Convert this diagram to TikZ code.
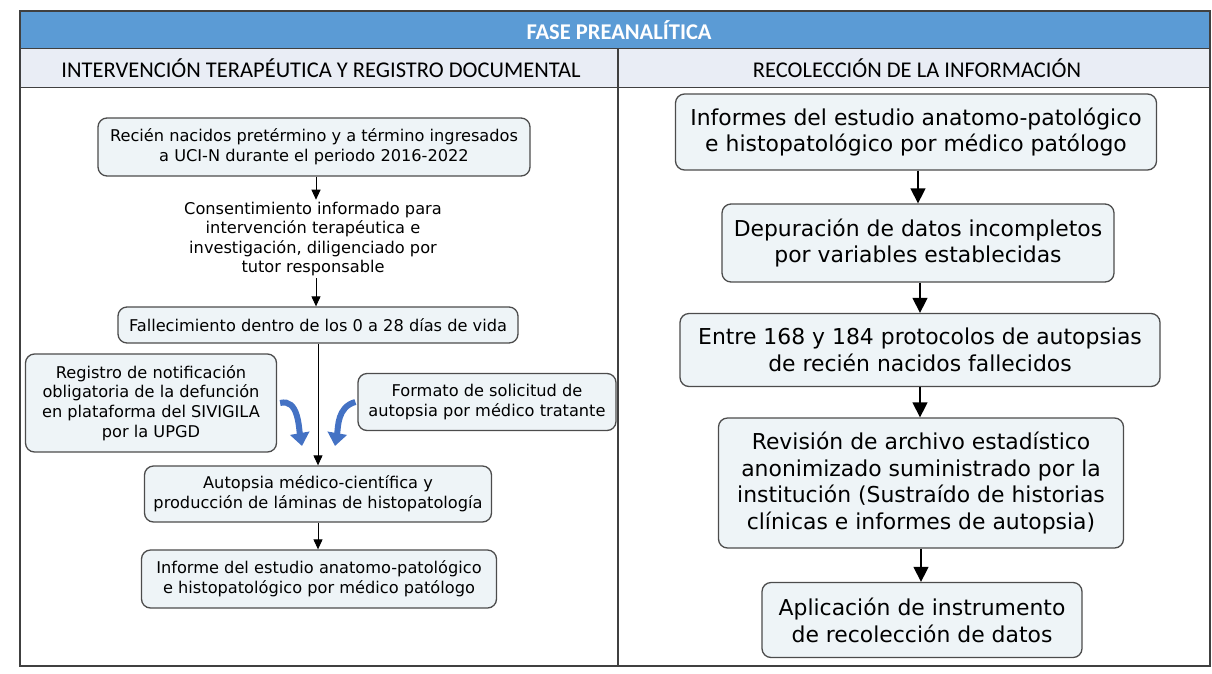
\documentclass[tikz,border=0pt]{standalone}
\usepackage{fontspec}
\setmainfont{DejaVu Sans}
\newfontfamily\hdrfont{Carlito}
\usetikzlibrary{arrows.meta}
\definecolor{barblue}{HTML}{5B9BD5}
\definecolor{subgray}{HTML}{E9EDF5}
\definecolor{boxfill}{HTML}{EEF4F7}
\definecolor{arrblue}{HTML}{4472C4}
\begin{document}
    \begin{tikzpicture}[x=1pt,y=-1pt,
        lbox/.style={draw=black!70,fill=boxfill,rounded corners=9pt,line width=1.3pt,align=center,inner sep=0pt,font=\fontsize{16.2}{19.8}\selectfont},
        rbox/.style={lbox,font=\fontsize{21.9}{26.8}\selectfont},
        lflow/.style={-{Triangle[width=9pt,length=10pt]},line width=1pt},
        rflow/.style={-{Triangle[width=15pt,length=15pt]},line width=1.4pt},
        side/.style={-{Triangle[width=19pt,length=13pt]},arrblue,line width=6pt}]
        \useasboundingbox (0,0) rectangle (1212,673);

        \fill[barblue] (20,11) rectangle (1210,48);
        \fill[subgray] (20,48) rectangle (1210,87);
        \draw[black!75,line width=1.5pt] (20,11) rectangle (1210,666);
        \draw[black!75,line width=1pt] (20,48) -- (1210,48);
        \draw[black!75,line width=1pt] (20,87) -- (1210,87);
        \draw[black!75,line width=1.3pt] (618,48) -- (618,666);

        \node[text=white,font=\hdrfont\bfseries\fontsize{22.5}{26}\selectfont] (fase) at (619,30) {FASE PREANALÍTICA};
        \node[font=\hdrfont\fontsize{22.5}{26}\selectfont] (interv) at (321,68) {INTERVENCIÓN TERAPÉUTICA Y REGISTRO DOCUMENTAL};
        \node[font=\hdrfont\fontsize{22.5}{26}\selectfont] (recol) at (917,68) {RECOLECCIÓN DE LA INFORMACIÓN};

        \node[lbox,minimum width=432pt,minimum height=58pt] (ingreso) at (314,147) {Recién nacidos pretérmino y a término ingresados\\a UCI-N durante el periodo 2016-2022};
        \node[align=center,inner sep=2pt,font=\fontsize{16.2}{19.5}\selectfont] (consent) at (313,239) {Consentimiento informado para\\intervención terapéutica e\\investigación, diligenciado por\\tutor responsable};
        \node[lbox,minimum width=400pt,minimum height=36pt] (fallec) at (318,325) {Fallecimiento dentro de los 0 a 28 días de vida};
        \node[lbox,minimum width=251pt,minimum height=98pt] (registro) at (151,403) {Registro de notificación\\obligatoria de la defunción\\en plataforma del SIVIGILA\\por la UPGD};
        \node[lbox,minimum width=258pt,minimum height=57pt] (formato) at (487,402) {Formato de solicitud de\\autopsia por médico tratante};
        \node[lbox,minimum width=347pt,minimum height=56pt] (autopsia) at (318,494) {Autopsia médico-científica y\\producción de láminas de histopatología};
        \node[lbox,minimum width=355pt,minimum height=58pt] (informe) at (319,579) {Informe del estudio anatomo-patológico\\e histopatológico por médico patólogo};

        \draw[lflow] (ingreso.south -| 316,0) -- (consent.north -| 316,0);
        \draw[lflow] (consent.south -| 316,0) -- (fallec.north -| 316,0);
        \draw[lflow] (fallec.south -| 318,0) -- (autopsia.north -| 318,0);
        \draw[lflow] (autopsia.south -| 318,0) -- (informe.north -| 318,0);

        \coordinate (regend) at (302,446);
        \coordinate (forend) at (335,446);
        \draw[side] ([xshift=3pt]registro.east) to[out=15,in=100] (regend);
        \draw[side] ([xshift=-2pt]formato.west) to[out=195,in=80] (forend);

        \node[rbox,minimum width=481pt,minimum height=76pt] (informes) at (916,132) {Informes del estudio anatomo-patológico\\e histopatológico por médico patólogo};
        \node[rbox,minimum width=392pt,minimum height=78pt] (depura) at (918,243) {Depuración de datos incompletos\\por variables establecidas};
        \node[rbox,minimum width=480pt,minimum height=73pt] (protocolos) at (920,350) {Entre 168 y 184 protocolos de autopsias\\de recién nacidos fallecidos};
        \node[rbox,minimum width=405pt,minimum height=130pt] (revision) at (921,483) {Revisión de archivo estadístico\\anonimizado suministrado por la\\institución (Sustraído de historias\\clínicas e informes de autopsia)};
        \node[rbox,minimum width=320pt,minimum height=75pt] (aplica) at (922,620) {Aplicación de instrumento\\de recolección de datos};

        \draw[rflow] (informes.south -| 918,0) -- (depura.north -| 918,0);
        \draw[rflow] (depura.south -| 920,0) -- (protocolos.north -| 920,0);
        \draw[rflow] (protocolos.south -| 920,0) -- (revision.north -| 920,0);
        \draw[rflow] (revision.south -| 921,0) -- (aplica.north -| 921,0);
    \end{tikzpicture}
\end{document}
